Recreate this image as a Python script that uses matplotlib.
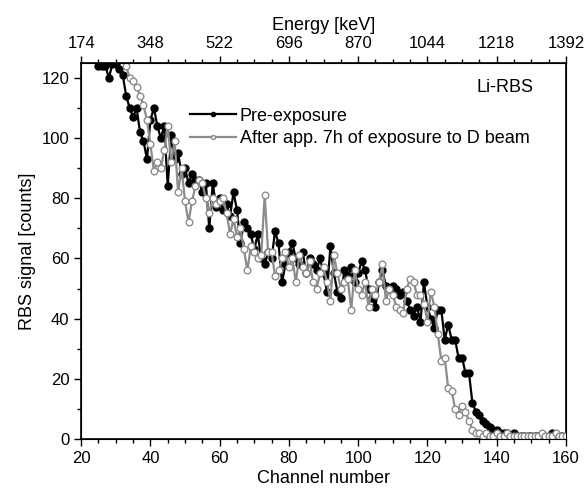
import matplotlib
matplotlib.use("Agg")
import matplotlib.pyplot as plt
from matplotlib.ticker import MultipleLocator, FixedLocator

plt.rcParams['font.family'] = ['Liberation Sans', 'DejaVu Sans']

# ---- data ----
pre_channels = list(range(25, 161))
pre_counts = [124, 124, 124, 120, 124.5, 124.5, 123, 121, 114, 110,
              107, 110, 102, 99, 93, 106, 110, 104, 100, 104,
              84, 101, 93, 95, 88, 90, 85, 88, 86, 86,
              82, 85, 70, 85, 77, 80, 76, 78, 74, 82,
              76, 65, 72, 70, 68, 63, 68, 60, 58, 62,
              60, 69, 65, 52, 58, 62, 65, 60, 58, 62,
              55, 60, 58, 56, 60, 55, 49, 64, 55, 49,
              47, 56, 54, 57, 52, 55, 59, 56, 50, 47,
              44, 52, 56, 51, 50, 51, 50, 48, 49, 46,
              43, 41, 44, 39, 52, 44, 40, 37, 43, 43,
              33, 38, 33, 33, 27, 27, 22, 22, 12, 9,
              8, 6, 5, 4, 3, 3, 2, 2, 2, 1,
              2, 1, 1, 1, 1, 1, 1, 1, 1, 0.5,
              1, 2, 1, 1, 1, 0.5]

post_channels = list(range(33, 161))
post_counts = [124, 120, 119, 117, 114, 111, 106, 98, 89, 92,
               90, 96, 104, 92, 99, 82, 90, 79, 72, 79,
               84, 86, 85, 80, 75, 80, 78, 79, 80, 75,
               68, 73, 67, 70, 63, 56, 64, 62, 60, 61,
               81, 62, 62, 54, 56, 60, 62, 57, 60, 52,
               61, 57, 55, 59, 52, 50, 55, 57, 52, 46,
               61, 55, 50, 52, 53, 43, 56, 50, 48, 52,
               44, 50, 48, 52, 58, 46, 50, 48, 44, 43,
               42, 50, 53, 52, 48, 48, 45, 39, 49, 44,
               35, 26, 27, 17, 16, 10, 8, 11, 9, 6,
               3, 2, 2, 1, 2, 1, 1, 2, 1, 1,
               2, 1, 1, 1, 1, 1, 1, 1, 1, 1,
               2, 1, 1, 1, 2, 1, 1, 1]

energy_tick_channels = [20, 40, 60, 80, 100, 120, 140, 160]
energy_tick_labels = ['174', '348', '522', '696', '870', '1044', '1218', '1392']

# ---- figure ----
fig = plt.figure(figsize=(5.84, 4.91), dpi=100)
ax = fig.add_axes([0.139, 0.106, 0.830, 0.766])

ax.plot(pre_channels, pre_counts, color='black', lw=1.6, marker='o',
        ms=5.0, mfc='black', mec='black', label='Pre-exposure', zorder=3)
ax.plot(post_channels, post_counts, color='#8c8c8c', lw=1.6, marker='o',
        ms=4.8, mfc='white', mec='#8c8c8c', mew=1.0,
        label='After app. 7h of exposure to D beam', zorder=4)

ax.set_xlim(20, 160)
ax.set_ylim(0, 125)
ax.xaxis.set_major_locator(MultipleLocator(20))
ax.xaxis.set_minor_locator(MultipleLocator(5))
ax.yaxis.set_major_locator(MultipleLocator(20))
ax.yaxis.set_minor_locator(MultipleLocator(10))
ax.tick_params(which='both', direction='out', top=False, right=False,
               labelsize=12, width=1)
ax.tick_params(which='major', length=5)
ax.tick_params(which='minor', length=3)
for s in ax.spines.values():
    s.set_linewidth(1.2)

ax.set_xlabel('Channel number', fontsize=13, labelpad=3)
ax.set_ylabel('RBS signal [counts]', fontsize=13, labelpad=4)

top = ax.twiny()
top.set_xlim(ax.get_xlim())
top.xaxis.set_major_locator(FixedLocator(energy_tick_channels))
top.set_xticklabels(energy_tick_labels)
top.xaxis.set_minor_locator(MultipleLocator(5))
top.tick_params(which='both', direction='out', labelsize=12, width=1)
top.tick_params(which='major', length=5)
top.tick_params(which='minor', length=3)
top.set_xlabel('Energy [keV]', fontsize=13, labelpad=4)

leg = ax.legend(loc='upper left', bbox_to_anchor=(0.205, 0.905), frameon=False,
                fontsize=13, handlelength=2.55, handletextpad=0.22,
                labelspacing=0.3, markerscale=0.6, borderpad=0)

ax.text(0.874, 0.934, 'Li-RBS', transform=ax.transAxes, ha='center',
        va='center', fontsize=13)

fig.savefig('out.png', dpi=100)
